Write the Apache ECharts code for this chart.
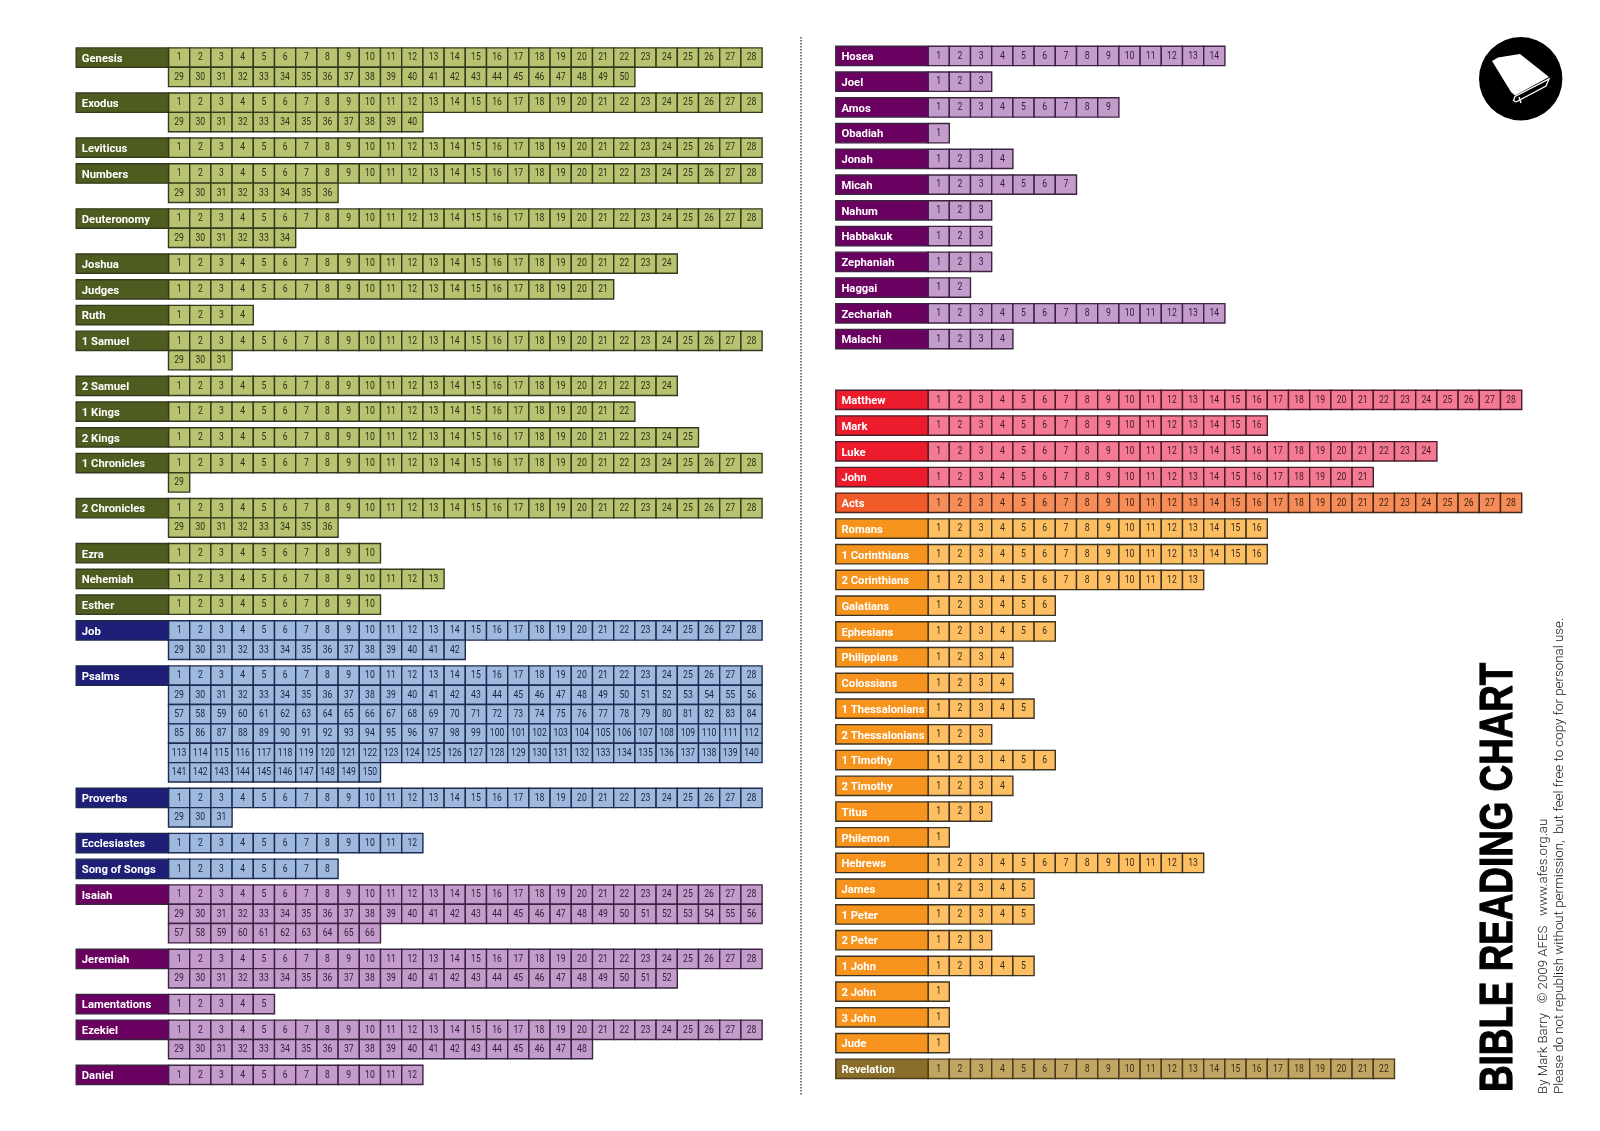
<!DOCTYPE html>
<html><head><meta charset="utf-8">
<style>html,body{margin:0;padding:0;background:#fff}#c{width:1600px;height:1131px}</style>
<script src="https://cdn.jsdelivr.net/npm/echarts@6/dist/echarts.min.js"></script>
</head><body><div id="c"></div>
<script>
// ---------- data ----------
const leftBooks = ['Genesis','Exodus','Leviticus','Numbers','Deuteronomy','Joshua','Judges','Ruth','1 Samuel','2 Samuel','1 Kings','2 Kings','1 Chronicles','2 Chronicles','Ezra','Nehemiah','Esther','Job','Psalms','Proverbs','Ecclesiastes','Song of Songs','Isaiah','Jeremiah','Lamentations','Ezekiel','Daniel'];
const leftChapters = [50,40,28,36,34,24,21,4,31,24,22,25,29,36,10,13,10,42,150,31,12,8,66,52,5,48,12];
const leftGroups = ['law','law','law','law','law','law','law','law','law','law','law','law','law','law','law','law','law','wisdom','wisdom','wisdom','wisdom','wisdom','prophets','prophets','prophets','prophets','prophets'];
const rightBooksA = ['Hosea','Joel','Amos','Obadiah','Jonah','Micah','Nahum','Habbakuk','Zephaniah','Haggai','Zechariah','Malachi'];
const rightChaptersA = [14,3,9,1,4,7,3,3,3,2,14,4];
const rightGroupsA = rightBooksA.map(() => 'prophets');
const rightBooksB = ['Matthew','Mark','Luke','John','Acts','Romans','1 Corinthians','2 Corinthians','Galatians','Ephesians','Philippians','Colossians','1 Thessalonians','2 Thessalonians','1 Timothy','2 Timothy','Titus','Philemon','Hebrews','James','1 Peter','2 Peter','1 John','2 John','3 John','Jude','Revelation'];
const rightChaptersB = [28,16,24,21,28,16,16,13,6,6,4,4,5,3,6,4,3,1,13,5,5,3,5,1,1,1,22];
const rightGroupsB = ['gospel','gospel','gospel','gospel','acts','letters','letters','letters','letters','letters','letters','letters','letters','letters','letters','letters','letters','letters','letters','letters','letters','letters','letters','letters','letters','letters','revelation'];
const titleText = 'BIBLE READING CHART';
const creditLine1 = 'By Mark Barry   \u00A9 2009 AFES   www.afes.org.au';
const creditLine2 = 'Please do not republish without permission,  but feel free to copy for personal use.';

// ---------- styles ----------
const palette = {
  law:       {head:'#4e5c20', cell:'#b8c270', line:'#323b1c', text:'#2a3214'},
  wisdom:    {head:'#1f1f78', cell:'#9fb8de', line:'#1d2b50', text:'#1a2440'},
  prophets:  {head:'#6a0060', cell:'#c49ccb', line:'#3c2440', text:'#33203a'},
  gospel:    {head:'#ec1c2c', cell:'#f47a94', line:'#4a1c2a', text:'#401824'},
  acts:      {head:'#f15a29', cell:'#f68d58', line:'#45261a', text:'#3e2216'},
  letters:   {head:'#f7941d', cell:'#fdbf62', line:'#3e3424', text:'#362c1c'},
  revelation:{head:'#8a6d28', cell:'#c0a662', line:'#4a3a1c', text:'#3a2e14'}
};
const CELL_W = 21.2, ROW_H = 19.35, ROW_GAP = 6.38, HEAD_W = 92.3, PER_ROW = 28;
const GAP_U = ROW_GAP / ROW_H, SECTION_U = 41.5 / ROW_H, HEAD_U = HEAD_W / CELL_W;
const NUM_FONT = 'Roboto,sans-serif';
const HEAD_FONT = 'Roboto,sans-serif';

// ---------- layout in axis units (x = chapter columns, y = chapter rows) ----------
function layout(sections) {
  const heads = [], cells = [];
  let y = 0;
  sections.forEach((s, si) => {
    if (si) y += SECTION_U - GAP_U;
    s.books.forEach((b, i) => {
      heads.push([-HEAD_U, y, b, s.groups[i]]);
      const n = s.chapters[i];
      for (let c = 1; c <= n; c++) {
        cells.push([(c - 1) % PER_ROW, y + Math.floor((c - 1) / PER_ROW), String(c), s.groups[i]]);
      }
      y += Math.ceil(n / PER_ROW) + GAP_U;
    });
  });
  return {heads, cells, height: y - GAP_U};
}
const L = layout([{books:leftBooks, chapters:leftChapters, groups:leftGroups}]);
const R = layout([{books:rightBooksA, chapters:rightChaptersA, groups:rightGroupsA},
                  {books:rightBooksB, chapters:rightChaptersB, groups:rightGroupsB}]);

function renderCell(p, api) {
  const pt = api.coord([api.value(0), api.value(1)]);
  const sz = api.size([1, 1]);
  const st = palette[api.value(3)];
  return {type:'group', children:[
    {type:'rect', shape:{x:pt[0], y:pt[1], width:sz[0], height:sz[1]},
     style:{fill:st.cell, stroke:st.line, lineWidth:1.4}},
    {type:'text', x:pt[0]+sz[0]/2, y:pt[1]+sz[1]/2, scaleX:0.78,
     style:{text:api.value(2), fill:st.text, font:'11px '+NUM_FONT, textAlign:'center', textVerticalAlign:'middle'}}
  ]};
}
function renderHead(p, api) {
  const pt = api.coord([api.value(0), api.value(1)]);
  const sz = api.size([HEAD_U, 1]);
  const st = palette[api.value(3)];
  return {type:'group', children:[
    {type:'rect', shape:{x:pt[0], y:pt[1], width:sz[0], height:sz[1]},
     style:{fill:st.head, stroke:st.line, lineWidth:1.4}},
    {type:'text', x:pt[0]+5.6, y:pt[1]+sz[1]/2+1.4, scaleX:0.98,
     style:{text:api.value(2), fill:'#fff', font:'bold 11.5px '+HEAD_FONT, textAlign:'left', textVerticalAlign:'middle'}}
  ]};
}
const hiddenX = i => ({type:'value', gridIndex:i, min:-HEAD_U, max:PER_ROW, show:false});
const hiddenY = (i, h) => ({type:'value', gridIndex:i, min:0, max:h, inverse:true, show:false});
const series = (data, render, i) => ({type:'custom', xAxisIndex:i, yAxisIndex:i, data, renderItem:render,
  encode:{x:0, y:1}, clip:false, silent:true, animation:false,
  dimensions:[null,null,{name:'t',type:'ordinal'},{name:'g',type:'ordinal'}]});

const chart = echarts.init(document.getElementById('c'), null, {renderer:'canvas'});
const fullW = (PER_ROW + HEAD_U) * CELL_W;
chart.setOption({
  animation:false, backgroundColor:'#fff',
  grid:[
    {left:76.2, top:47.9, width:fullW, height:L.height*ROW_H},
    {left:835.8, top:46.3, width:fullW, height:R.height*ROW_H}
  ],
  xAxis:[hiddenX(0), hiddenX(1)],
  yAxis:[hiddenY(0, L.height), hiddenY(1, R.height)],
  series:[series(L.cells, renderCell, 0), series(L.heads, renderHead, 0),
          series(R.cells, renderCell, 1), series(R.heads, renderHead, 1)],
  graphic:[
    {type:'line', shape:{x1:801, y1:37, x2:801, y2:1095}, style:{stroke:'#333', lineWidth:1.3, lineDash:[1.5,1.5]}},
    {type:'circle', shape:{cx:1520.7, cy:78.8, r:41.7}, style:{fill:'#000'}},
    {type:'polygon', shape:{points:[[1492,61],[1498,57.5],[1520,54],[1549,77],[1515,95.5],[1511,92]]}, style:{fill:'#fff'}},
    {type:'polyline', shape:{points:[[1516,102],[1513.5,100.5],[1515,96.5],[1549,79],[1546,86],[1516,102]]}, style:{stroke:'#fff', fill:'none', lineWidth:1.3}},
    {type:'line', shape:{x1:1519, y1:97, x2:1521, y2:103}, style:{stroke:'#fff', lineWidth:1.5}},
    {type:'text', x:1499.5, y:1092, rotation:Math.PI/2, scaleX:0.783,
     style:{text:titleText, fill:'#000', stroke:'#000', lineWidth:1.2, font:'bold 47px "Liberation Sans",sans-serif', textAlign:'left', textVerticalAlign:'middle'}},
    {type:'text', x:1543.5, y:1094, rotation:Math.PI/2, scaleX:1.02,
     style:{text:creditLine1, fill:'#111', font:'300 13px Roboto,sans-serif', textAlign:'left', textVerticalAlign:'middle'}},
    {type:'text', x:1559.5, y:1094, rotation:Math.PI/2, scaleX:1.025,
     style:{text:creditLine2, fill:'#111', font:'300 13px Roboto,sans-serif', textAlign:'left', textVerticalAlign:'middle'}}
  ]
});
</script></body></html>
